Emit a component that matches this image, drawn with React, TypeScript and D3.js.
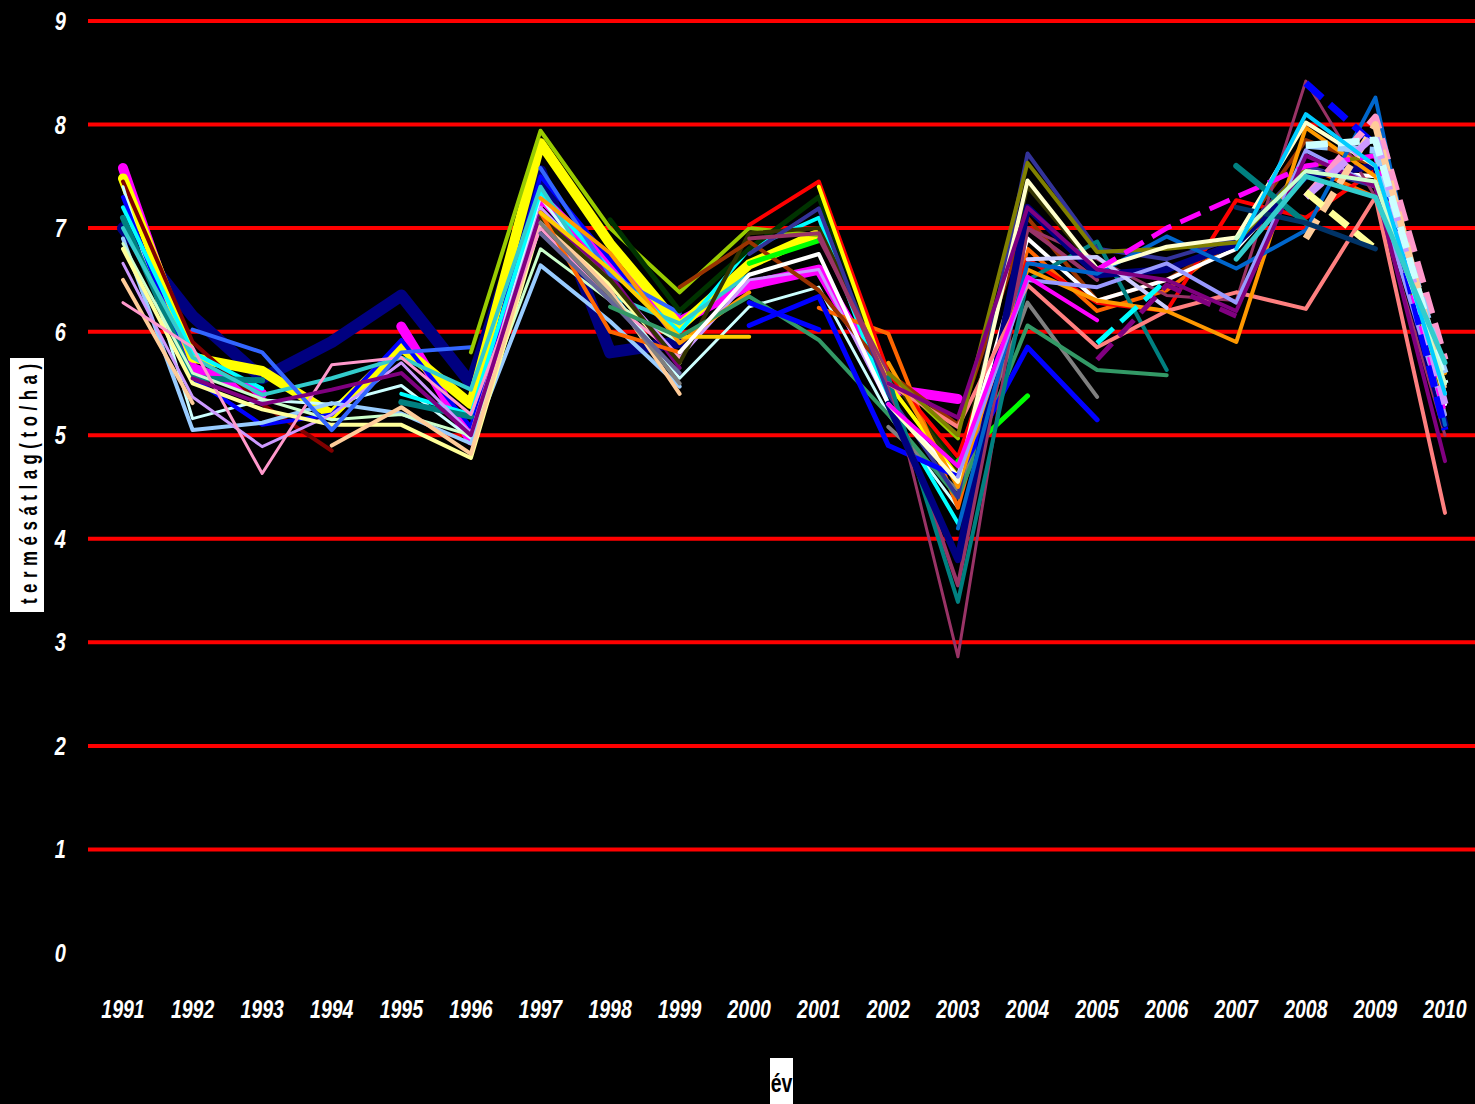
import React from 'react';
import * as d3 from 'd3';

const W = 1475;
const H = 1104;
const N = null;

// years on the x axis
const years = d3.range(1991, 2011);
// y axis ticks (to/ha)
const yTicks = [0, 1, 2, 3, 4, 5, 6, 7, 8, 9];
const gridTicks = [1, 2, 3, 4, 5, 6, 7, 8, 9];

const yTitle = 'termésátlag(to/ha)';
const xTitle = 'év';

// yield averages per series, 1991..2010 (null = no data)
const seriesValues: (number | null)[][] = [
  [7.0, 6.15, 5.55, 5.9, 6.35, 5.5, 7.55, 5.8, 5.9, N, N, N, N, N, N, N, N, N, N, N],
  [7.58, 5.65, 5.4, N, 6.05, 4.95, 7.3, 6.65, 6.1, 6.45, 6.6, 5.45, 5.35, N, N, N, N, N, N, N],
  [7.48, 5.75, 5.62, 5.2, 5.85, 5.3, 7.82, 6.85, 6.05, 6.65, 6.95, N, N, N, N, N, N, N, N, N],
  [7.45, 5.9, 5.3, 4.85, N, N, N, N, N, N, N, N, N, N, N, N, N, N, N, N],
  [7.4, 5.16, 5.34, 5.3, 5.48, 4.97, 7.3, 6.4, 5.55, 6.24, 6.43, 5.2, 4.3, N, N, N, N, N, N, N],
  [7.3, 5.55, 5.1, 5.2, 5.92, 5.08, 7.5, 6.7, 5.9, N, N, N, N, N, N, N, N, N, N, N],
  [7.2, 5.8, 5.45, N, 5.4, 5.2, 7.35, 6.6, 6.0, 6.8, 7.1, 5.3, 4.15, N, N, N, N, N, N, N],
  [7.1, 5.55, 5.53, N, 5.32, 5.18, N, N, N, N, N, N, N, N, N, N, N, N, N, N],
  [6.9, 5.05, 5.12, 5.31, 5.21, 4.92, 6.64, 6.1, 5.47, N, N, N, N, N, N, N, N, N, N, N],
  [7.0, 5.75, 5.39, 5.55, 5.75, 5.44, 7.4, 6.35, 6.08, 6.55, N, N, N, N, N, N, N, N, N, N],
  [6.85, 5.6, 5.35, 5.15, 5.2, 5.0, 6.8, 6.3, 5.9, N, N, N, N, N, N, N, N, N, N, N],
  [6.66, 5.37, 4.89, 5.2, 5.7, 5.02, 7.2, 6.5, 5.75, 6.5, 6.6, 5.3, 4.6, N, N, N, N, N, N, N],
  [6.8, 5.5, 5.25, 5.1, 5.1, 4.78, 7.05, 6.45, 5.7, N, N, N, N, N, N, N, N, N, N, N],
  [6.5, 5.31, N, 4.9, 5.27, 4.82, 7.1, 6.4, 5.4, N, N, N, N, N, N, N, N, N, N, N],
  [6.28, 5.85, 4.63, 5.68, 5.75, 5.2, 7.0, 6.3, 5.75, N, N, N, N, N, N, N, N, N, N, N],
  [N, 6.02, 5.8, 5.05, 5.8, 5.85, N, N, N, N, N, N, N, N, N, N, N, N, N, N],
  [N, 5.55, 5.3, 5.44, 5.6, 5.0, 7.15, 6.55, 5.65, N, N, N, N, N, N, N, N, N, N, N],
  [N, N, N, N, N, N, 7.58, 6.55, 6.18, N, N, N, N, N, N, N, N, N, N, N],
  [N, N, N, N, N, 5.8, 7.94, 7.0, 6.38, 7.0, 6.93, 5.6, 4.97, N, N, N, N, N, N, N],
  [N, N, N, N, N, N, N, 7.08, 6.2, 6.8, 7.3, 5.6, 4.7, N, N, N, N, N, N, N],
  [N, N, N, N, N, N, 7.1, 6.5, 5.7, 6.95, 7.0, 5.6, 4.65, 7.4, 6.6, N, N, N, N, N],
  [N, N, N, N, N, N, 7.29, 6.76, 5.89, 6.38, N, N, N, N, N, N, N, N, N, N],
  [N, N, N, N, N, N, 7.15, 6.0, 5.8, N, 6.23, 5.98, 4.3, 6.8, 6.2, 6.4, 6.9, 7.6, 7.3, 5.5],
  [N, N, N, N, N, N, 7.15, 6.6, 5.95, 5.95, N, N, N, N, N, N, N, N, N, N],
  [N, N, N, N, N, N, 7.05, 6.35, 5.5, N, N, 5.08, 4.47, 6.28, 5.37, N, N, N, N, N],
  [N, N, N, N, N, N, 6.95, 6.3, 5.6, N, N, N, N, N, N, N, N, N, N, N],
  [N, N, N, N, N, N, N, 6.24, 5.95, 6.34, 5.92, 5.2, 4.4, 6.06, 5.63, 5.58, N, N, N, N],
  [N, N, N, N, N, N, N, N, 6.43, 6.87, 6.4, 5.6, 5.1, 7.1, 6.3, 6.5, 6.9, 7.85, 7.6, N],
  [N, N, N, N, N, N, N, N, N, 7.03, 7.45, 5.6, 4.79, 6.7, 6.28, 6.2, 7.27, 7.1, 7.56, 5.4],
  [N, N, N, N, N, N, N, N, N, N, 7.4, 5.5, 4.6, N, N, N, N, N, N, N],
  [N, N, N, N, N, N, N, N, N, 6.75, 7.19, 5.4, 4.4, 7.72, 6.8, 6.7, 6.9, 7.6, 7.4, 5.3],
  [N, N, N, N, N, N, N, N, N, 6.66, 6.88, N, 4.75, 5.38, N, N, N, N, N, N],
  [N, N, N, N, N, N, N, N, 5.8, 6.55, 6.75, 5.3, 4.6, 6.9, 6.3, 6.5, 6.8, 7.55, 7.5, 5.3],
  [N, N, N, N, N, N, N, N, N, 6.06, 6.34, 4.9, 4.6, 5.85, 5.15, N, N, N, N, N],
  [N, N, N, N, N, N, N, N, N, 6.28, 6.02, N, N, N, N, N, N, N, N, N],
  [N, N, N, N, N, N, N, N, N, N, 6.9, 5.6, 2.86, 7.0, 6.7, 6.35, 6.3, 8.42, 7.3, 5.0],
  [N, N, N, N, N, N, N, N, N, 6.9, 6.95, 5.5, 3.55, 7.0, 6.5, N, N, N, N, N],
  [N, N, N, N, N, N, N, N, N, N, N, 5.56, 3.39, 6.5, 6.87, 5.63, N, N, N, N],
  [N, N, N, N, N, N, N, N, N, N, N, 5.3, 3.8, 7.2, 6.55, 6.6, 6.85, 7.5, 7.6, 5.1],
  [N, N, N, N, N, N, N, N, N, N, N, 5.5, 5.08, 6.45, 5.85, 6.2, 6.38, 6.22, 7.3, 4.25],
  [N, N, N, N, N, N, N, N, N, N, N, 5.7, 4.5, 6.6, 6.3, 6.2, 5.9, 7.97, 7.5, 5.6],
  [N, N, N, N, N, N, N, N, N, N, N, N, 4.1, 6.66, 6.56, 6.92, 6.61, 6.98, 8.26, 5.1],
  [N, N, N, N, N, N, N, N, N, N, N, 5.6, 5.0, 7.63, 6.77, 6.8, 6.86, 7.6, 7.7, 5.2],
  [N, N, N, N, N, N, N, N, N, N, N, 5.3, 4.55, 7.46, 6.61, 6.82, 6.91, 8.02, 7.6, 5.4],
  [N, N, N, N, N, N, N, N, N, N, N, N, 4.6, 6.5, 6.43, 6.66, 6.28, 7.75, 7.4, 5.2],
  [N, N, N, N, N, N, N, N, N, N, N, N, N, 6.7, 6.72, 6.23, N, N, N, N],
  [N, N, N, N, N, N, N, N, N, N, N, 5.3, 4.7, 6.53, 6.11, N, N, N, N, N],
  [N, N, N, N, N, N, N, N, N, N, N, N, N, N, 6.6, 7.0, 7.3, 7.6, 7.7, 5.2],
  [N, N, N, N, N, N, N, N, N, N, N, N, N, N, 5.89, 6.5, N, N, N, N],
  [N, N, N, N, N, N, N, N, N, N, N, N, N, N, 5.73, 6.45, 6.15, N, N, N],
  [N, N, N, N, N, N, N, N, N, N, N, 5.5, 5.17, 7.2, 6.6, 6.5, 6.2, 7.7, 7.4, 4.75],
  [N, N, N, N, N, N, N, N, N, N, N, N, N, N, N, N, 7.6, 7.05, N, N],
  [N, N, N, N, N, N, N, N, N, N, N, N, N, N, N, N, N, 8.4, 7.8, 5.05],
  [N, N, N, N, N, N, N, N, N, N, N, N, N, N, N, N, N, 7.3, 8.07, 5.73],
  [N, N, N, N, N, N, N, N, N, N, N, N, N, N, N, N, N, 7.8, 7.75, 5.6],
  [N, N, N, N, N, N, N, N, N, N, N, N, N, N, N, N, N, 6.9, 8.0, 5.4],
  [N, N, N, N, N, N, N, N, N, N, N, N, N, N, N, N, N, 7.3, 7.9, 5.3],
  [N, N, N, N, N, N, N, N, N, N, N, N, N, N, N, N, N, 7.8, 7.85, 5.5],
  [N, N, N, N, N, N, N, N, N, N, N, N, N, N, N, N, N, 7.35, 6.8, N],
  [N, N, N, N, N, N, N, N, N, N, N, N, N, N, N, N, 7.2, 7.05, 6.8, N],
  [N, N, N, N, N, N, N, N, N, N, N, N, N, N, N, N, 6.9, 7.55, 7.45, 5.5],
  [N, N, N, N, N, N, N, N, N, N, N, N, N, N, N, N, 6.8, 8.1, 7.6, 5.4],
  [N, N, N, N, N, N, N, N, N, N, N, N, N, N, N, N, 6.7, 7.5, 7.3, 5.7],
];

// line styles, same order as seriesValues
const seriesColors = [
  '#000080', '#FF00FF', '#FFFF00', '#800000', '#CCFFFF', '#0000FF', '#00FFFF', '#008080',
  '#99CCFF', '#33CCCC', '#CCFFCC', '#CC99FF', '#FFFF99', '#FFCC99', '#FF99CC', '#3366FF',
  '#800080', '#3366FF', '#99CC00', '#003300', '#333300', '#FF9900', '#FF6600', '#FFCC00',
  '#808080', '#666699', '#339966', '#993300', '#FF0000', '#FFFF00', '#333399', '#00FF00',
  '#FFFFFF', '#0000FF', '#0000FF', '#993366', '#993366', '#008080', '#000080', '#FF8080',
  '#FF9900', '#0066CC', '#808000', '#FFFFCC', '#9999FF', '#CCCCFF', '#FF00FF', '#FF00FF',
  '#00FFFF', '#800080', '#800080', '#008080', '#0000FF', '#FF99CC', '#99CCFF', '#FFCC99',
  '#CC99FF', '#CCFFFF', '#FFFF99', '#003366', '#CCFFCC', '#00CCFF', '#33CCCC',
];
const seriesWidths = [
  12, 10, 10, 4, 3, 4, 4, 6,
  4, 4, 3, 3, 4, 4, 3, 4,
  4, 4, 4, 5, 4, 4, 4, 4,
  4, 4, 4, 4, 4, 4, 4, 5,
  4, 5, 5, 3, 4, 4, 7, 4,
  4, 4, 4, 4, 4, 4, 4, 5,
  5, 5, 4, 6, 7, 7, 7, 7,
  7, 7, 7, 5, 4, 4, 5,
];
const dashed = new Set([47, 48, 49, 52, 53, 54, 55, 56, 57, 58]);

const App: React.FC = () => {
  const x = d3.scaleLinear().domain([1991, 2010]).range([123, 1445]);
  const y = d3.scaleLinear().domain([0, 9]).range([953, 21]);

  const line = d3
    .line<number | null>()
    .defined((d) => d != null)
    .x((_d, i) => x(years[i]))
    .y((d) => y(d as number));

  const font = "'Liberation Sans', Arial, sans-serif";

  return (
    <div style={{position: 'absolute', left: 0, top: 0}}>
      <svg width={W} height={H} style={{display: 'block'}}>
        <rect x={0} y={0} width={W} height={H} fill="#000" />
        {/* red gridlines */}
        {gridTicks.map((t) => (
          <line key={t} x1={88} x2={W} y1={y(t)} y2={y(t)} stroke="#FF0000" strokeWidth={4} />
        ))}
        {/* series */}
        {seriesValues.map((vals, i) => (
          <path
            key={i}
            d={line(vals) || ''}
            fill="none"
            stroke={seriesColors[i]}
            strokeWidth={seriesWidths[i]}
            strokeDasharray={dashed.has(i) ? '22,10' : undefined}
            strokeLinecap={dashed.has(i) ? 'butt' : 'round'}
            strokeLinejoin="round"
          />
        ))}
        {/* y tick labels (condensed bold italic) */}
        {yTicks.map((t) => (
          <text
            key={t}
            transform={`translate(66,${y(t) + 9}) scale(0.8,1)`}
            textAnchor="end"
            fill="#fff"
            fontFamily={font}
            fontWeight="bold"
            fontStyle="italic"
            fontSize={25}
          >
            {t}
          </text>
        ))}
        {/* x tick labels */}
        {years.map((yr) => (
          <text
            key={yr}
            transform={`translate(${x(yr)},1018) scale(0.78,1)`}
            textAnchor="middle"
            fill="#fff"
            fontFamily={font}
            fontWeight="bold"
            fontStyle="italic"
            fontSize={25}
          >
            {yr}
          </text>
        ))}
        {/* y axis title */}
        <rect x={10} y={358} width={34} height={254} fill="#fff" />
        <text
          transform="translate(37,484) rotate(-90) scale(0.7,1)"
          textAnchor="middle"
          fill="#000"
          fontFamily={font}
          fontWeight="bold"
          fontSize={24}
          textLength={343}
          lengthAdjust="spacing"
        >
          {yTitle}
        </text>
        {/* x axis title */}
        <rect x={770} y={1058} width={23} height={46} fill="#fff" />
        <text
          transform="translate(781.5,1092) scale(0.78,1)"
          textAnchor="middle"
          fill="#000"
          fontFamily={font}
          fontWeight="bold"
          fontSize={25}
        >
          {xTitle}
        </text>
      </svg>
    </div>
  );
};

export default App;
